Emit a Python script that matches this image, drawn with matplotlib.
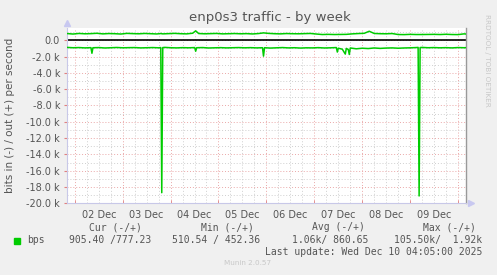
import numpy as np
import matplotlib
matplotlib.use("Agg")
import matplotlib.pyplot as plt
import matplotlib.dates as mdates
from matplotlib.ticker import MultipleLocator, FuncFormatter
from datetime import datetime, timedelta

# hours after the graph start (Mon 01 Dec 20:05) and values in bits/s
out_hours = [0, 3, 6, 9, 12, 15, 18, 21, 24, 27, 30, 33, 36, 39, 42, 45, 47, 48, 51,
             54, 57, 60, 63, 64.5, 66, 69, 72, 75, 78, 81, 84, 87, 90, 93, 96, 98.5,
             101, 104, 107, 110, 113, 116, 119, 122, 125, 128, 131, 134, 137, 140,
             143, 146, 149, 151.5, 154, 157, 160, 163, 166, 169, 172, 175, 178, 181,
             184, 187, 190, 193, 196, 199, 200]
out_vals = [820, 760, 830, 790, 810, 850, 780, 820, 800, 760, 840, 810, 790, 830,
            800, 770, 820, 780, 810, 840, 800, 780, 860, 1150, 820, 790, 810, 830,
            780, 800, 820, 790, 810, 770, 820, 900, 840, 800, 780, 820, 800, 790,
            810, 830, 760, 700, 720, 700, 710, 720, 780, 820, 850, 1100, 830, 800,
            790, 820, 700, 690, 720, 700, 700, 710, 720, 700, 730, 700, 690, 780, 760]

in_hours = [0, 3, 6, 9, 12, 12.5, 13, 16, 19, 22, 25, 28, 31, 34, 37, 40, 43, 46,
            47, 47.5, 48, 49, 52, 55, 58, 61, 64, 64.5, 65, 68, 71, 74, 77, 80, 83,
            86, 89, 92, 95, 98, 98.5, 99, 102, 105, 108, 111, 114, 117, 120, 123,
            126, 129, 132, 135, 135.5, 136, 138, 139.5, 140, 141, 141.5, 142, 145,
            148, 151, 154, 157, 160, 163, 166, 169, 172, 175, 176, 176.5, 177, 178,
            181, 184, 187, 190, 193, 196, 199, 200]
in_vals = [-880, -920, -900, -940, -910, -1600, -920, -900, -950, -920, -890, -930,
           -910, -900, -940, -920, -900, -930, -900, -18700, -900, -880, -920, -940,
           -910, -930, -900, -1350, -920, -900, -950, -930, -910, -940, -920, -900,
           -930, -910, -940, -920, -1950, -920, -960, -930, -900, -940, -920, -960,
           -930, -940, -910, -950, -930, -900, -1450, -980, -1100, -1700, -1000,
           -1150, -1750, -950, -1050, -980, -1020, -950, -1000, -960, -940, -980,
           -950, -930, -900, -880, -19100, -900, -880, -920, -900, -930, -910, -940,
           -900, -920, -910]

legend_cols = ["Cur (-/+)", "Min (-/+)", "Avg (-/+)", "Max (-/+)"]
legend_vals = ["905.40 /777.23", "510.54 / 452.36", "1.06k/ 860.65", "105.50k/  1.92k"]

start = datetime(2025, 12, 1, 20, 5)
end = datetime(2025, 12, 10, 4, 5)
out_t = [start + timedelta(hours=h) for h in out_hours]
in_t = [start + timedelta(hours=h) for h in in_hours]

fig = plt.figure(figsize=(4.97, 2.75), dpi=100, facecolor="#f0f0f0")
ax = fig.add_axes([67 / 497, 1 - 203.3 / 275, (466 - 67) / 497, (203.3 - 28) / 275])
ax.set_facecolor("white")

ax.set_xlim(start, end)
ax.set_ylim(-20000, 1500)

# grid: red at midnight / every 2k, grey at 6h / odd k
day = datetime(2025, 12, 2)
t = datetime(2025, 12, 1, 21)
while t < end:
    if t.hour == 0:
        ax.axvline(t, color="#eaa8a8", lw=0.7, ls=(0, (1, 2)), zorder=0)
    elif t.hour % 6 == 0:
        ax.axvline(t, color="#cfcfcf", lw=0.7, ls=(0, (1, 2)), zorder=0)
    t += timedelta(hours=1)
for v in range(-19000, 1500, 1000):
    c = "#eaa8a8" if v % 2000 == 0 else "#cfcfcf"
    ax.axhline(v, color=c, lw=0.7, ls=(0, (1, 2)), zorder=0)

ax.axhline(0, color="black", lw=1.2, zorder=2)
ax.plot(out_t, out_vals, color="#00cc00", lw=1.1, zorder=3)
ax.plot(in_t, in_vals, color="#00cc00", lw=1.1, zorder=3)

ax.yaxis.set_major_locator(MultipleLocator(2000))
ax.yaxis.set_major_formatter(FuncFormatter(
    lambda v, p: "0.0" if abs(v) < 1 else "%.1f k" % (v / 1000)))
ax.xaxis.set_major_locator(mdates.HourLocator(byhour=[12]))
ax.xaxis.set_major_formatter(mdates.DateFormatter("%d Dec"))
ax.xaxis.set_minor_locator(mdates.HourLocator(byhour=[0]))
ax.tick_params(axis="x", which="major", length=0, labelsize=7, colors="#555555", pad=5)
ax.tick_params(axis="x", which="minor", length=2, color="#e08080", direction="in")
ax.tick_params(axis="y", length=2, labelsize=7, colors="#555555", pad=3)
ax.tick_params(axis="y", color="#e08080")

for s in ["top"]:
    ax.spines[s].set_visible(False)
ax.spines["left"].set_color("#c8c8e8")
ax.spines["bottom"].set_color("#c8c8e8")
ax.spines["right"].set_color("#999999")
ax.spines["right"].set_linewidth(1.0)
for s in ["left", "bottom"]:
    ax.spines[s].set_linewidth(0.8)
ax.plot([0], [1.03], marker="^", color="#c8c8f0", ms=4, transform=ax.transAxes, clip_on=False)
ax.plot([1.012], [0], marker=">", color="#c8c8f0", ms=4, transform=ax.transAxes, clip_on=False)

fig.text(270 / 497, 1 - 18 / 275, "enp0s3 traffic - by week", ha="center", va="center",
         fontsize=9.5, color="#555555")
fig.text(10 / 497, 1 - 115 / 275, "bits in (-) / out (+) per second", rotation=90,
         ha="center", va="center", fontsize=7.5, color="#555555")
fig.text(487 / 497, 1 - 60 / 275, "RRDTOOL / TOBI OETIKER", rotation=270,
         ha="center", va="center", fontsize=5.2, color="#c8c8c8")

mono = "DejaVu Sans Mono"
hx = [115, 227, 338, 449]
for x, lab in zip(hx, legend_cols):
    fig.text(x / 497, 1 - 227 / 275, lab, ha="center", va="center", family=mono,
             fontsize=7, color="#555555")
fig.patches.append(plt.Rectangle((14 / 497, 1 - 243.5 / 275), 6 / 497, 6 / 275,
                                 transform=fig.transFigure, color="#00cc00"))
fig.text(27 / 497, 1 - 240 / 275, "bps", ha="left", va="center", family=mono,
         fontsize=7, color="#555555")
vx = [151, 260, 368, 482]
for x, lab in zip(vx, legend_vals):
    fig.text(x / 497, 1 - 240 / 275, lab, ha="right", va="center", family=mono,
             fontsize=7, color="#555555")
fig.text(482 / 497, 1 - 252 / 275, "Last update: Wed Dec 10 04:05:00 2025", ha="right",
         va="center", family=mono, fontsize=7, color="#555555")
fig.text(248 / 497, 1 - 263 / 275, "Munin 2.0.57", ha="center", va="center",
         fontsize=5.2, color="#c8c8c8")

fig.savefig("out.png", dpi=100, facecolor=fig.get_facecolor())
